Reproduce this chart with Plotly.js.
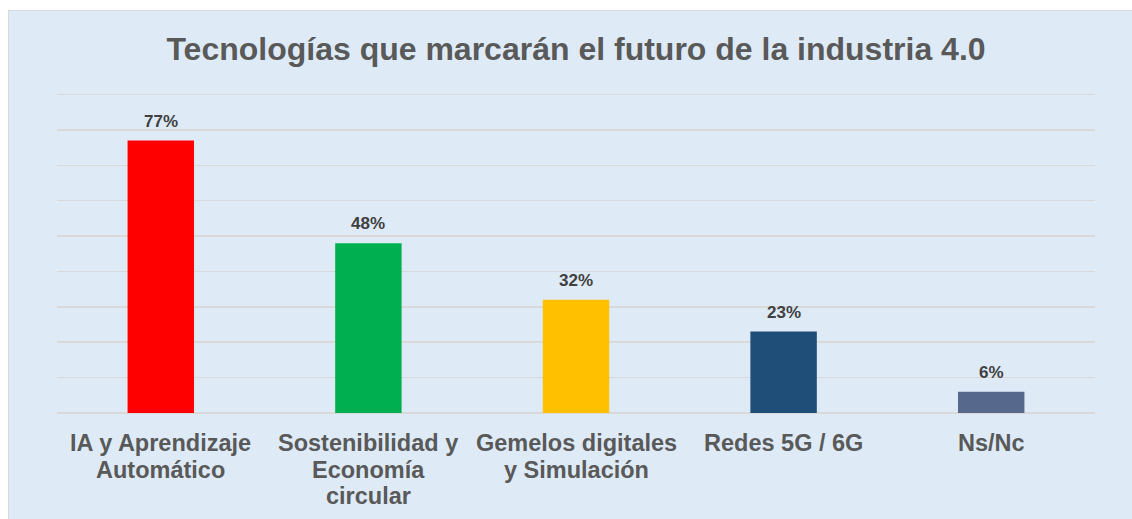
<!DOCTYPE html>
<html>
<head>
<meta charset="utf-8">
<script src="https://cdn.plot.ly/plotly-3.0.1.min.js"></script>
<style>
  html, body { margin: 0; padding: 0; background: #ffffff; width: 1132px; height: 519px; overflow: hidden; }
  #frame { position: absolute; left: 8px; top: 10px; width: 1124px; height: 509px; border-left: 1px solid #D9D9D9; border-top: 1px solid #D9D9D9; box-sizing: border-box; background: #DEEBF7; }
  #chart { width: 1123px; height: 508px; }
</style>
</head>
<body>
<div id="frame"><div id="chart"></div></div>
<script>
const categories = ["IA y Aprendizaje Automático", "Sostenibilidad y Economía circular", "Gemelos digitales y Simulación", "Redes 5G / 6G", "Ns/Nc"];
const tickLines = [
  ["IA y Aprendizaje", "Automático"],
  ["Sostenibilidad y", "Economía", "circular"],
  ["Gemelos digitales", "y Simulación"],
  ["Redes 5G / 6G"],
  ["Ns/Nc"]
];
const values = [77, 48, 32, 23, 6];
const valueLabels = ["77%", "48%", "32%", "23%", "6%"];
const barColors = ["#FF0000", "#00B050", "#FFC000", "#1F4E79", "#56698C"];
const chartTitle = "Tecnologías que marcarán el futuro de la industria 4.0";

const FONT = "'Liberation Sans', Arial, sans-serif";

const trace = {
  type: "bar",
  x: categories,
  y: values,
  marker: { color: barColors, line: { width: 0 } },
  width: 0.32,
  hoverinfo: "skip"
};

const annotations = categories.map((c, i) => ({
  x: c, y: values[i], xref: "x", yref: "y",
  text: "<b>" + valueLabels[i] + "</b>", showarrow: false,
  yanchor: "bottom", yshift: 8,
  font: { family: FONT, size: 17, color: "#404040" }
}));

categories.forEach((c, i) => {
  tickLines[i].forEach((line, k) => {
    annotations.push({
      x: c, y: 0, xref: "x", yref: "y",
      text: "<b>" + line + "</b>", showarrow: false,
      yanchor: "top", yshift: -(15 + k * 26.5),
      font: { family: FONT, size: 23.5, color: "#595959" }
    });
  });
});

const layout = {
  width: 1123, height: 508,
  paper_bgcolor: "#DEEBF7",
  plot_bgcolor: "#DEEBF7",
  margin: { l: 48, r: 37, t: 80, b: 106, pad: 0 },
  title: {
    text: "<b>" + chartTitle + "</b>",
    font: { family: FONT, size: 32, color: "#595959" },
    xref: "paper", x: 0.5, xanchor: "center",
    yref: "container", y: 0.926, yanchor: "middle"
  },
  xaxis: {
    type: "category",
    showgrid: false, zeroline: false, showline: false,
    ticks: "", showticklabels: false,
    fixedrange: true
  },
  yaxis: {
    range: [0, 91], dtick: 10, tick0: 0,
    showgrid: true, gridcolor: "#D9D9D9", gridwidth: 1.5,
    zeroline: true, zerolinecolor: "#D9D9D9", zerolinewidth: 1.5,
    showticklabels: false, ticks: "", showline: false,
    fixedrange: true
  },
  annotations: annotations,
  showlegend: false
};

Plotly.newPlot("chart", [trace], layout, { displayModeBar: false, staticPlot: true });
</script>
</body>
</html>
